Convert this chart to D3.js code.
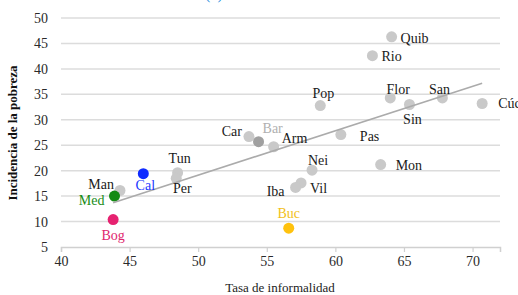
<!DOCTYPE html>
<html>
<head>
<meta charset="utf-8">
<script src="https://cdn.jsdelivr.net/npm/d3@7"></script>
<style>
  body { margin: 0; background: #fff; }
  text { font-family: "Liberation Serif", "Times New Roman", serif; }
</style>
</head>
<body>
<div id="chart"></div>
<script>
// data
var cities = ["Quib", "Rio", "Pop", "Flor", "Sin", "San", "Cúc", "Pas", "Car", "Bar", "Arm",
  "Nei", "Mon", "Vil", "Iba", "Buc", "Tun", "Per", "Man", "Cal", "Med", "Bog"];
var informalidad = [64.1, 62.7, 58.9, 64.0, 65.4, 67.8, 70.7, 60.4, 53.7, 54.4, 55.5,
  58.3, 63.3, 57.5, 57.1, 56.6, 48.5, 48.4, 44.3, 46.0, 43.9, 43.8];
var pobreza = [46.3, 42.6, 32.8, 34.3, 33.0, 34.3, 33.2, 27.1, 26.7, 25.7, 24.7,
  20.1, 21.2, 17.6, 16.7, 8.7, 19.6, 18.5, 16.1, 19.4, 15.0, 10.4];
var trendX = [43.8, 70.7];
var trendY = [13.7, 37.2];
var xTicks = [40, 45, 50, 55, 60, 65, 70];
var yTicks = [5, 10, 15, 20, 25, 30, 35, 40, 45, 50];

var W = 518, H = 295;
var x = d3.scaleLinear().domain([40, 72]).range([61, 500]);
var y = d3.scaleLinear().domain([5, 50]).range([247, 18]);

var dotColor = { Cal: "#0f2bff", Med: "#128a12", Bog: "#e62270", Buc: "#ffc20e", Bar: "#a0a0a0" };
var textColor = { Cal: "#1c38ff", Med: "#178c17", Bog: "#e0266e", Buc: "#f2bf1a", Bar: "#b0b0b0" };

// label offsets: [dx, dy, anchor]
var lab = {
  Quib: [9, 1, "start"], Rio: [9, 0, "start"], Pop: [3, -12, "middle"], Flor: [8, -9, "middle"],
  Sin: [3, 15, "middle"], San: [-3, -9, "middle"], "Cúc": [16, 0, "start"], Pas: [19, 2, "start"],
  Car: [-7, -5, "end"], Bar: [4, -14, "start"], Arm: [8, -9, "start"], Nei: [6, -10, "middle"],
  Mon: [15, 1, "start"], Vil: [9, 5, "start"], Iba: [-11, 4, "end"], Buc: [0, -15, "middle"],
  Tun: [2, -15, "middle"], Per: [6, 10, "middle"], Man: [-6, -6, "end"], Cal: [2, 11, "middle"],
  Med: [-10, 4, "end"], Bog: [0, 16, "middle"]
};

var data = cities.map(function (c, i) {
  return { name: c, x: informalidad[i], y: pobreza[i] };
});

var svg = d3.select("#chart").append("svg").attr("width", W).attr("height", H);

// title, cut off at the top edge as in the source
svg.append("text").attr("x", 214).attr("y", -1).attr("text-anchor", "middle")
  .attr("fill", "#2f8fe0").style("font-size", "16px").text("(a)");

/* grid */
svg.append("g").selectAll("line").data(yTicks.slice(1)).enter().append("line")
  .attr("x1", x(40)).attr("x2", x(72))
  .attr("y1", function (d) { return y(d); }).attr("y2", function (d) { return y(d); })
  .attr("stroke", "#dcdcdc").attr("stroke-width", 1.5);

/* axes */
var xAxis = d3.axisBottom(x).tickValues(xTicks).tickSize(5).tickPadding(4);
var gx = svg.append("g").attr("transform", "translate(0," + y(5) + ")").call(xAxis);
gx.select(".domain").attr("stroke", "#d0d0d0").attr("stroke-width", 1.5);
gx.selectAll(".tick line").attr("stroke", "#d0d0d0").attr("stroke-width", 1.2);
gx.selectAll("text").attr("fill", "#2a2a2a").style("font-size", "14px")
  .style("font-family", "Liberation Serif, serif");

var yAxis = d3.axisLeft(y).tickValues(yTicks).tickSize(0).tickPadding(13);
var gy = svg.append("g").attr("transform", "translate(" + x(40) + ",0)").call(yAxis);
gy.select(".domain").remove();
gy.selectAll("text").attr("fill", "#2a2a2a").style("font-size", "14px")
  .style("font-family", "Liberation Serif, serif");

svg.append("text").attr("transform", "translate(17,133) rotate(-90)")
  .attr("text-anchor", "middle").attr("fill", "#111").style("font-size", "13px")
  .style("font-weight", "bold").text("Incidencia de la pobreza");
svg.append("text").attr("x", 280).attr("y", 292).attr("text-anchor", "middle")
  .attr("fill", "#222").style("font-size", "13px").text("Tasa de informalidad");

/* dots */
svg.append("g").selectAll("circle").data(data).enter().append("circle")
  .attr("cx", function (d) { return x(d.x); })
  .attr("cy", function (d) { return y(d.y); })
  .attr("r", 5.5)
  .attr("fill", function (d) { return dotColor[d.name] || "#c9c9c9"; });

/* trend line */
var line = d3.line().x(function (d) { return x(d[0]); }).y(function (d) { return y(d[1]); });
svg.append("path").attr("d", line(d3.zip(trendX, trendY)))
  .attr("fill", "none").attr("stroke", "#ababab").attr("stroke-width", 1.6);

/* labels */
svg.append("g").selectAll("text").data(data).enter().append("text")
  .attr("x", function (d) { return x(d.x) + lab[d.name][0]; })
  .attr("y", function (d) { return y(d.y) + lab[d.name][1]; })
  .attr("dy", "0.35em")
  .attr("text-anchor", function (d) { return lab[d.name][2]; })
  .attr("fill", function (d) { return textColor[d.name] || "#1a1a1a"; })
  .style("font-size", "14px")
  .text(function (d) { return d.name; });
</script>
</body>
</html>
